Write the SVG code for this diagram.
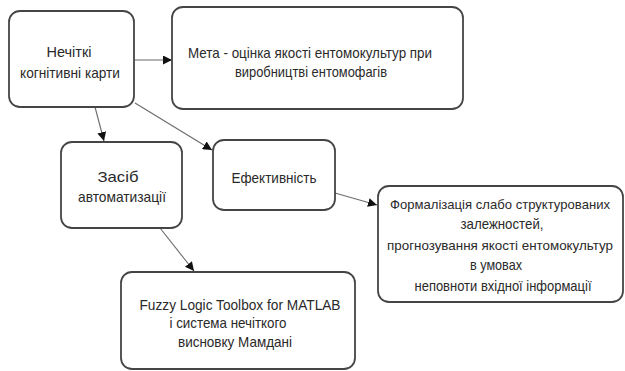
<svg xmlns="http://www.w3.org/2000/svg" width="625" height="371" viewBox="0 0 625 371">
<style>
.box{fill:#fff;stroke:#454545;stroke-width:1.8}
.t{font-family:"Liberation Sans",Arial,sans-serif;font-size:14.5px;fill:#2a2a2a;text-anchor:middle}
.s{font-size:13px}
.c{stroke:#6a6a6a;stroke-width:1.1;fill:none;marker-end:url(#ah)}
</style>
<defs>
<marker id="ah" viewBox="0 0 10 10" refX="10" refY="5" markerWidth="9" markerHeight="9" markerUnits="userSpaceOnUse" orient="auto">
<path d="M0,0 L10,5 L0,10 Z" fill="#111"/>
</marker>
</defs>
<rect width="625" height="371" fill="#fff"/>
<g id="connectors">
<line class="c" x1="134" y1="60" x2="172" y2="60"/>
<line class="c" x1="95" y1="107" x2="104" y2="141"/>
<line class="c" x1="135" y1="103" x2="212" y2="150"/>
<line class="c" x1="160" y1="228" x2="194" y2="271"/>
<line class="c" x1="335" y1="193" x2="377" y2="205"/>
</g>
<g id="n1">
<rect class="box" x="9" y="11" width="125" height="96" rx="11"/>
<text class="t" x="69" y="57" textLength="45" lengthAdjust="spacingAndGlyphs">Нечіткі</text>
<text class="t" x="70" y="78" textLength="100" lengthAdjust="spacingAndGlyphs">когнітивні карти</text>
</g>
<g id="n2">
<rect class="box" x="172" y="7" width="291" height="102" rx="11"/>
<text class="t" x="310" y="58" textLength="244" lengthAdjust="spacingAndGlyphs">Мета - оцінка якості ентомокультур при</text>
<text class="t" x="311" y="77" textLength="152" lengthAdjust="spacingAndGlyphs">виробництві ентомофагів</text>
</g>
<g id="n3">
<rect class="box" x="61" y="142" width="121" height="86" rx="11"/>
<text class="t" x="118" y="182" textLength="41" lengthAdjust="spacingAndGlyphs">Засіб</text>
<text class="t" x="122" y="202" textLength="88" lengthAdjust="spacingAndGlyphs">автоматизації</text>
</g>
<g id="n4">
<rect class="box" x="213" y="140" width="122" height="70" rx="11"/>
<text class="t" x="274" y="183" textLength="85" lengthAdjust="spacingAndGlyphs">Ефективність</text>
</g>
<g id="n5">
<rect class="box" x="378" y="186" width="245" height="116" rx="11"/>
<text class="t s" x="500" y="209" textLength="220" lengthAdjust="spacingAndGlyphs">Формалізація слабо структурованих</text>
<text class="t" x="502" y="229" textLength="83" lengthAdjust="spacingAndGlyphs">залежностей,</text>
<text class="t s" x="500" y="250" textLength="226" lengthAdjust="spacingAndGlyphs">прогнозування якості ентомокультур</text>
<text class="t" x="496" y="270" textLength="52" lengthAdjust="spacingAndGlyphs">в умовах</text>
<text class="t" x="503" y="291" textLength="177" lengthAdjust="spacingAndGlyphs">неповноти вхідної інформації</text>
</g>
<g id="n6">
<rect class="box" x="121" y="272" width="234" height="97" rx="11"/>
<text class="t" x="240" y="310" textLength="201" lengthAdjust="spacingAndGlyphs">Fuzzy Logic Toolbox for MATLAB</text>
<text class="t" x="228" y="328" textLength="117" lengthAdjust="spacingAndGlyphs">і система нечіткого</text>
<text class="t" x="235" y="347" textLength="114" lengthAdjust="spacingAndGlyphs">висновку Мамдані</text>
</g>
</svg>
